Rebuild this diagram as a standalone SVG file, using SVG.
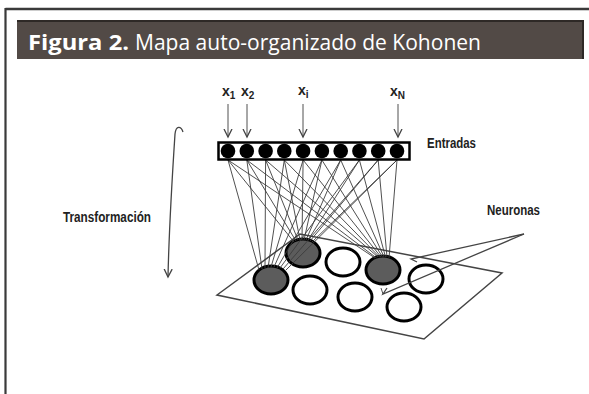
<svg xmlns="http://www.w3.org/2000/svg" width="589" height="394" viewBox="0 0 589 394">
<defs>
<style>
.lbl{font-family:"Liberation Sans Narrow","Liberation Sans",Arial,sans-serif;font-weight:bold;fill:#222}
.conn line{stroke:#3c3c3c;stroke-width:0.9}
.arr{stroke:#444;stroke-width:1.3;fill:none}
.neu{stroke:#000;stroke-width:3}
.dark{fill:#5c5c5c}
.white{fill:#fff}
</style>
<marker id="vhead" markerWidth="10" markerHeight="10" refX="8" refY="5" orient="auto" markerUnits="userSpaceOnUse">
<path d="M0,1 L8,5 L0,9" fill="none" stroke="#444" stroke-width="1.3"/>
</marker>
</defs>
<rect width="589" height="394" fill="#fff"/>
<g id="frame">
<line x1="5.5" y1="9" x2="589" y2="9" stroke="#3a3a3a" stroke-width="2.5"/>
<line x1="5.5" y1="8" x2="5.5" y2="394" stroke="#3a3a3a" stroke-width="2.2"/>
</g>
<g id="title">
<rect x="17" y="20" width="567" height="39" fill="#524a46"/>
<line x1="17" y1="21" x2="584" y2="21" stroke="#2e2926" stroke-width="2"/>
<line x1="583" y1="20" x2="583" y2="59" stroke="#2e2926" stroke-width="2"/>
<text x="28" y="50" font-family="'Open Sans','Liberation Sans',sans-serif" font-size="21" fill="#fff"><tspan font-weight="bold" textLength="101" lengthAdjust="spacingAndGlyphs">Figura 2.</tspan><tspan x="135" textLength="346" lengthAdjust="spacingAndGlyphs">Mapa auto-organizado de Kohonen</tspan></text>
</g>
<g id="plane">
<polygon points="217,295 300,234 502,273 424,339" fill="#fff" stroke="#444" stroke-width="1.5"/>
</g>
<g id="neurons">
<ellipse id="n1" class="neu dark" cx="271" cy="280" rx="17" ry="14"/>
<ellipse id="n2" class="neu dark" cx="303" cy="253" rx="17" ry="14"/>
<ellipse id="n3" class="neu white" cx="343" cy="262" rx="17" ry="14"/>
<ellipse id="n4" class="neu dark" cx="383" cy="270" rx="17" ry="14"/>
<ellipse id="n5" class="neu white" cx="426" cy="279" rx="17" ry="14"/>
<ellipse id="n6" class="neu white" cx="310" cy="290" rx="17" ry="14"/>
<ellipse id="n7" class="neu white" cx="355" cy="297" rx="17" ry="14"/>
<ellipse id="n8" class="neu white" cx="404" cy="307" rx="17" ry="14"/>
</g>
<g id="connectors" class="conn">
<line x1="228" y1="160" x2="259" y2="270"/>
<line x1="246.8" y1="160" x2="262" y2="269"/>
<line x1="265.6" y1="160" x2="265" y2="268"/>
<line x1="284.3" y1="160" x2="268" y2="268"/>
<line x1="303.1" y1="160" x2="271" y2="267"/>
<line x1="321.9" y1="160" x2="274" y2="267"/>
<line x1="340.7" y1="160" x2="277" y2="268"/>
<line x1="359.4" y1="160" x2="280" y2="268"/>
<line x1="378.2" y1="160" x2="283" y2="269"/>
<line x1="397" y1="160" x2="286" y2="270"/>
<line x1="228" y1="160" x2="294" y2="242"/>
<line x1="246.8" y1="160" x2="296" y2="241"/>
<line x1="265.6" y1="160" x2="298" y2="240"/>
<line x1="284.3" y1="160" x2="300" y2="240"/>
<line x1="303.1" y1="160" x2="302" y2="240"/>
<line x1="321.9" y1="160" x2="304" y2="240"/>
<line x1="340.7" y1="160" x2="306" y2="240"/>
<line x1="359.4" y1="160" x2="308" y2="240"/>
<line x1="378.2" y1="160" x2="310" y2="241"/>
<line x1="397" y1="160" x2="312" y2="242"/>
<line x1="228" y1="160" x2="375" y2="258"/>
<line x1="246.8" y1="160" x2="376.5" y2="258"/>
<line x1="265.6" y1="160" x2="378" y2="257"/>
<line x1="284.3" y1="160" x2="379.5" y2="257"/>
<line x1="303.1" y1="160" x2="381" y2="257"/>
<line x1="321.9" y1="160" x2="382.5" y2="257"/>
<line x1="340.7" y1="160" x2="384" y2="257"/>
<line x1="359.4" y1="160" x2="385.5" y2="257"/>
<line x1="378.2" y1="160" x2="387" y2="257"/>
<line x1="397" y1="160" x2="389" y2="258"/>
<line x1="228" y1="104" x2="228" y2="137" class="arr" marker-end="url(#vhead)"/>
<line x1="247" y1="104" x2="247" y2="137" class="arr" marker-end="url(#vhead)"/>
<line x1="303" y1="104" x2="303" y2="137" class="arr" marker-end="url(#vhead)"/>
<line x1="398" y1="104" x2="398" y2="137" class="arr" marker-end="url(#vhead)"/>
<path class="arr" d="M183,132 C181,126 176,125 175,134 C172,180 169,230 168,277" marker-end="url(#vhead)"/>
<polyline class="arr" points="524,234 411,259 417,262"/>
<polyline class="arr" points="524,234 383,294 387,288"/>
<line x1="383" y1="294" x2="381" y2="288" class="arr"/>
</g>
<g id="inputs">
<rect x="218.5" y="142.5" width="191" height="17" fill="#fff" stroke="#000" stroke-width="2.5"/>
<circle cx="228" cy="151" r="7.3"/>
<circle cx="246.8" cy="151" r="7.3"/>
<circle cx="265.6" cy="151" r="7.3"/>
<circle cx="284.3" cy="151" r="7.3"/>
<circle cx="303.1" cy="151" r="7.3"/>
<circle cx="321.9" cy="151" r="7.3"/>
<circle cx="340.7" cy="151" r="7.3"/>
<circle cx="359.4" cy="151" r="7.3"/>
<circle cx="378.2" cy="151" r="7.3"/>
<circle cx="397" cy="151" r="7.3"/>
</g>
<g id="labels">
<text class="lbl" x="222" y="96" font-size="14">x<tspan font-size="10" dy="3">1</tspan></text>
<text class="lbl" x="241" y="96" font-size="14">x<tspan font-size="10" dy="3">2</tspan></text>
<text class="lbl" x="298" y="95" font-size="14">x<tspan font-size="10" dy="3">i</tspan></text>
<text class="lbl" x="390" y="96" font-size="14">x<tspan font-size="10" dy="3">N</tspan></text>
<text class="lbl" x="427" y="148" font-size="14.5" textLength="49" lengthAdjust="spacingAndGlyphs">Entradas</text>
<text class="lbl" x="487" y="215" font-size="14.5" textLength="53" lengthAdjust="spacingAndGlyphs">Neuronas</text>
<text class="lbl" x="63" y="222" font-size="14.5" textLength="88" lengthAdjust="spacingAndGlyphs">Transformación</text>
</g>
</svg>
